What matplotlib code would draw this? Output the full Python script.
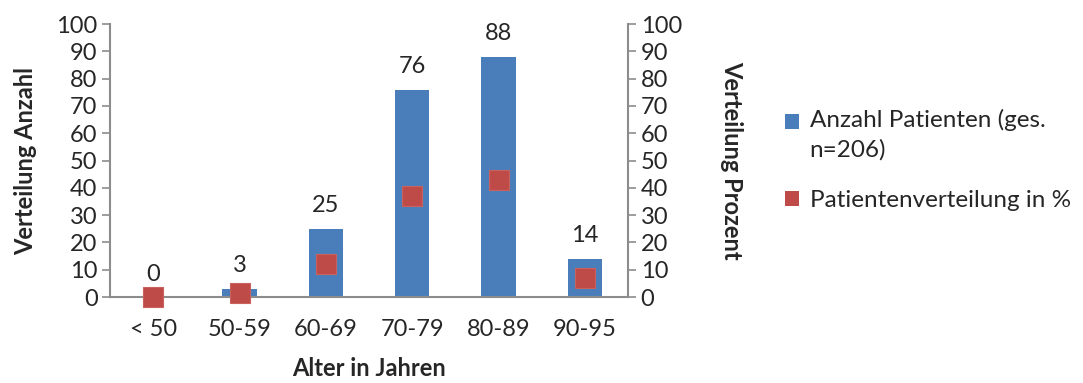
import matplotlib
matplotlib.use("Agg")
import matplotlib.pyplot as plt
from matplotlib.legend_handler import HandlerPatch
from matplotlib.patches import Patch, Rectangle

plt.rcParams["font.family"] = ["Lato", "DejaVu Sans"]

# data
age_groups = ["< 50", "50-59", "60-69", "70-79", "80-89", "90-95"]
patients = [0, 3, 25, 76, 88, 14]
percent = [0.0, 1.5, 12.1, 36.9, 42.7, 6.8]

BLUE = "#4a7ebb"
RED = "#be4b48"
AXIS = "#8c8c8c"
TEXT = "#262626"
FS = 17

fig = plt.figure(figsize=(10.83, 3.83), dpi=100)
ax = fig.add_axes([0.1016, 0.2245, 0.4783, 0.7128])
ax2 = ax.twinx()

x = list(range(len(age_groups)))
ax.bar(x, patients, width=0.4, color=BLUE, zorder=2)
for xi, v in zip(x, patients):
    ax.annotate(str(v), (xi, v), xytext=(0, 9), textcoords="offset points",
                ha="center", va="bottom", fontsize=FS, color=TEXT)

ax2.plot(x, percent, ls="none", marker="s", markersize=14.5,
         markerfacecolor=RED, markeredgecolor="#c9625f", markeredgewidth=0.8,
         clip_on=False, zorder=3)

for a in (ax, ax2):
    a.set_ylim(0, 100)
    a.set_yticks(range(0, 101, 10))
    a.set_xlim(-0.5, len(age_groups) - 0.5)
    a.spines["top"].set_visible(False)
    for s in a.spines.values():
        s.set_color(AXIS)
        s.set_linewidth(1.5)
    a.tick_params(axis="y", colors=AXIS, labelcolor=TEXT, labelsize=FS,
                  length=6, width=1.2, pad=3)

ax.spines["right"].set_visible(False)
ax2.spines["left"].set_visible(False)
ax2.spines["bottom"].set_visible(False)

ax.set_xticks(x)
ax.set_xticklabels(age_groups)
ax.tick_params(axis="x", length=0, labelsize=FS, labelcolor=TEXT, pad=16)

ax.set_xlabel("Alter in Jahren", fontsize=FS, fontweight="bold", color=TEXT, labelpad=12)
ax.set_ylabel("Verteilung Anzahl", fontsize=FS, fontweight="bold", color=TEXT, labelpad=14)
ax2.set_ylabel("Verteilung Prozent", fontsize=FS, fontweight="bold", color=TEXT,
               rotation=-90, labelpad=44)


def first_line_square(legend, orig_handle, xdescent, ydescent, width, height, fontsize):
    # keep the square level with the first line of a two-line label
    return Rectangle((-xdescent, -ydescent + 9.5), width, height)


h_count = Patch(facecolor=BLUE, edgecolor="none", label="Anzahl Patienten (ges.\nn=206)")
h_pct = Patch(facecolor=RED, edgecolor="none", label="Patientenverteilung in %")
leg = fig.legend(handles=[h_count, h_pct], loc="upper left", bbox_to_anchor=(0.705, 0.772),
                 frameon=False, fontsize=17.5, handlelength=0.55, handleheight=0.55,
                 handletextpad=0.45, labelspacing=1.2, labelcolor=TEXT,
                 handler_map={h_count: HandlerPatch(patch_func=first_line_square)})
for t in leg.get_texts():
    t.set_linespacing(1.45)

fig.savefig("out.png", dpi=100)
